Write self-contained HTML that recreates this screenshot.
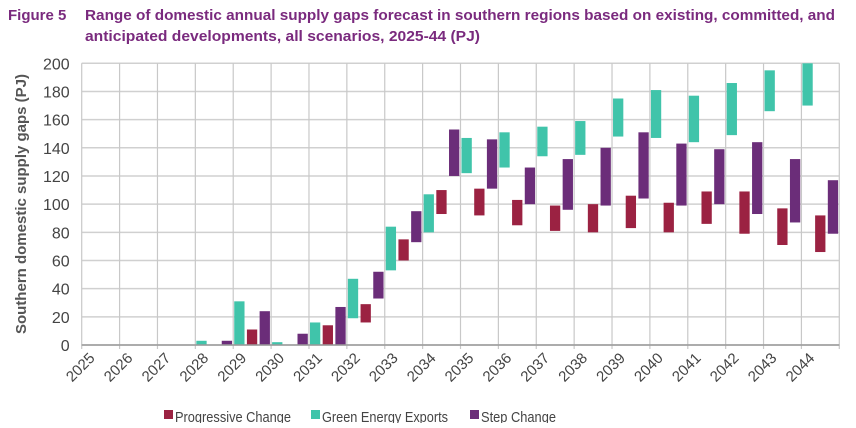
<!DOCTYPE html>
<html><head><meta charset="utf-8"><style>
body{margin:0;background:#fff;width:856px;height:423px;overflow:hidden;font-family:"Liberation Sans",sans-serif}
</style></head><body>
<svg width="856" height="423" viewBox="0 0 856 423" id="svg">
<text x="8" y="20" font-size="15" font-weight="bold" fill="#7a2a7e">Figure 5</text>
<text x="85" y="20" font-size="15" font-weight="bold" fill="#7a2a7e" textLength="750" lengthAdjust="spacingAndGlyphs">Range of domestic annual supply gaps forecast in southern regions based on existing, committed, and</text>
<text x="85" y="41" font-size="15" font-weight="bold" fill="#7a2a7e" textLength="395" lengthAdjust="spacingAndGlyphs">anticipated developments, all scenarios, 2025-44 (PJ)</text>
<text transform="translate(26,204) rotate(-90)" text-anchor="middle" font-size="15" font-weight="bold" fill="#555">Southern domestic supply gaps (PJ)</text>
<g id="grid"></g><g id="bars"></g><g id="axes"></g>
<g>
<rect x="164" y="410" width="9" height="9" fill="#9b2242"/>
<text x="175" y="422" font-size="15" fill="#444" textLength="116" lengthAdjust="spacingAndGlyphs">Progressive Change</text>
<rect x="311" y="410" width="9" height="9" fill="#40c4aa"/>
<text x="322" y="422" font-size="15" fill="#444" textLength="126" lengthAdjust="spacingAndGlyphs">Green Energy Exports</text>
<rect x="470" y="410" width="9" height="9" fill="#6b2d79"/>
<text x="481" y="422" font-size="15" fill="#444" textLength="75" lengthAdjust="spacingAndGlyphs">Step Change</text>
</g>
</svg>
<script>
const years=["2025","2026","2027","2028","2029","2030","2031","2032","2033","2034","2035","2036","2037","2038","2039","2040","2041","2042","2043","2044"];
const greenLow=[0,0,0,0,0,0,0,19,53,80,122,126,134,135,148,147,144,149,166,170];
const greenHigh=[0,0,0,3,31,2,16,47,84,107,147,151,155,159,175,181,177,186,195,200];
const progLow=[0,0,0,0,0,0,0,16,60,93,92,85,81,80,83,80,86,79,71,66];
const progHigh=[0,0,0,0,11,0,14,29,75,110,111,103,99,100,106,101,109,109,97,92];
const stepLow=[0,0,0,0,0,0,0,33,73,120,111,100,96,99,104,99,100,93,87,79];
const stepHigh=[0,0,0,3,24,8,27,52,95,153,146,126,132,140,151,143,139,144,132,117];
const yTicks=[0,20,40,60,80,100,120,140,160,180,200];
const NS="http://www.w3.org/2000/svg";
const X0=81.7,X1=839.3,Y0=345,Y1=63.3;
const cw=(X1-X0)/years.length;
const xs=i=>X0+i*cw;
const ys=v=>Y0-(v/200)*(Y0-Y1);
function mk(tag,attrs,parent){const e=document.createElementNS(NS,tag);for(const k in attrs)e.setAttribute(k,attrs[k]);parent.appendChild(e);return e;}
const grid=document.getElementById('grid'),bars=document.getElementById('bars'),axes=document.getElementById('axes');
yTicks.forEach(t=>{
  const l=mk('line',{x1:X0,x2:X1,y1:ys(t),y2:ys(t),stroke:'#d0d0d0','stroke-width':1.5},grid);
  
  
  const tx=mk('text',{x:X0-12,y:ys(t)+6,'text-anchor':'end','font-size':16,fill:'#444'},axes);
  tx.textContent=t;
  
  
});
for(let i=0;i<=years.length;i++){
  const l=mk('line',{x1:xs(i),x2:xs(i),y1:Y1,y2:Y0+4,stroke:'#c8c8c8','stroke-width':1.2},grid);
  
  
}
const ax=mk('line',{x1:X0,x2:X1,y1:Y0,y2:Y0,stroke:'#999','stroke-width':1.5},axes);


years.forEach((y,i)=>{
  const tx=mk('text',{x:0,y:0,'text-anchor':'end','font-size':15,fill:'#444',transform:`translate(${xs(i)+14},${Y0+14}) rotate(-45)`},axes);
  tx.textContent=y;
  
  
});
const series=[[greenLow,greenHigh,'#40c4aa',1,'bar-green-energy-exports'],[progLow,progHigh,'#9b2242',13.7,'bar-progressive-change'],[stepLow,stepHigh,'#6b2d79',26.4,'bar-step-change']];
series.forEach(([lo,hi,c,off,name])=>{
  years.forEach((y,i)=>{
    if(hi[i]-lo[i]<=0)return;
    const r=mk('rect',{x:xs(i)+off,y:ys(hi[i]),width:10.3,height:ys(lo[i])-ys(hi[i]),fill:c},bars);
    
    
  });
});
</script>
</body></html>
